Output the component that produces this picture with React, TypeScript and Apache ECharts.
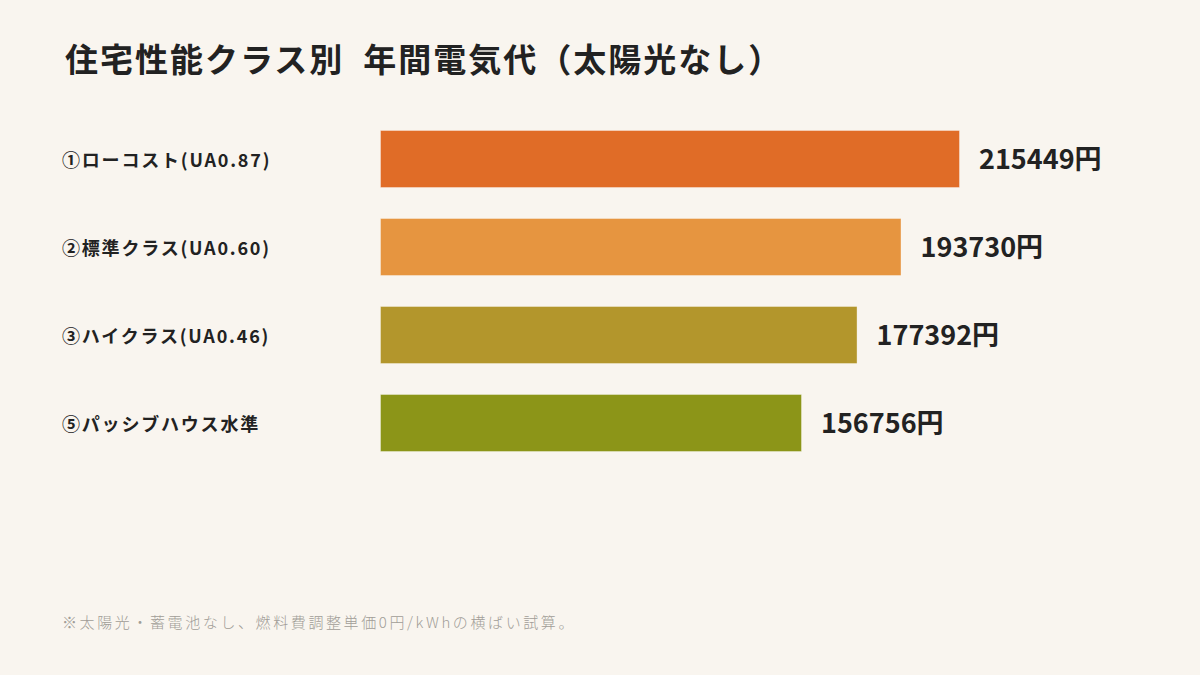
import { useEffect, useRef } from 'react'
import * as echarts from 'echarts'

const categories = ['①ローコスト(UA0.87)', '②標準クラス(UA0.60)', '③ハイクラス(UA0.46)', '⑤パッシブハウス水準']
const values = [215449, 193730, 177392, 156756]
const colors = ['#E06C27', '#E69540', '#B3962C', '#8C9518']

const titleText = '住宅性能クラス別  年間電気代（太陽光なし）'
const noteText = '※太陽光・蓄電池なし、燃料費調整単価0円/kWhの横ばい試算。'

const FONT = '"Noto Sans CJK JP", "Noto Sans", sans-serif'
const BG = '#F9F5EF'

// letter spacing per text (ECharts has no option for it, so it is set on the svg text after render)
const spacingFor = (t: string) => {
  if (t === titleText) return 2
  if (t === noteText) return 2.6
  if (categories.includes(t)) return 1.8
  return 0
}

export default function App() {
  const chartRef = useRef<HTMLDivElement>(null)

  useEffect(() => {
    if (!chartRef.current) return
    document.body.style.margin = '0'
    document.body.style.background = BG
    const chart = echarts.init(chartRef.current, null, { renderer: 'svg' })

    const option = {
      animation: false,
      backgroundColor: BG,
      textStyle: { fontFamily: FONT },
      title: [
        {
          text: titleText,
          left: 60,
          top: 36,
          textStyle: { fontFamily: FONT, fontSize: 33, fontWeight: 'bold', color: '#222222' }
        },
        {
          text: noteText,
          left: 57,
          top: 609,
          textStyle: { fontFamily: FONT, fontSize: 15, fontWeight: 300, color: '#A19D97' }
        }
      ],
      grid: { left: 380, top: 115, width: 673, height: 352 },
      xAxis: {
        type: 'value',
        min: 0,
        max: 250000,
        show: false
      },
      yAxis: {
        type: 'category',
        data: categories,
        inverse: true,
        axisLine: { show: false },
        axisTick: { show: false },
        axisLabel: {
          align: 'left',
          margin: 318,
          padding: [0, 0, 4, 0],
          fontFamily: FONT,
          fontSize: 18,
          fontWeight: 'bold',
          color: '#222222'
        }
      },
      series: [
        {
          type: 'bar',
          barWidth: 58,
          data: values.map((v, i) => ({
            value: v,
            itemStyle: { color: colors[i], borderColor: 'rgba(255,255,255,0.35)', borderWidth: 1 }
          })),
          label: {
            show: true,
            position: 'right',
            distance: 19,
            offset: [0, -2],
            formatter: (p: any) => `${p.value}円`,
            fontFamily: FONT,
            fontSize: 27,
            fontWeight: 'bold',
            color: '#222222'
          }
        }
      ]
    }

    chart.setOption(option)

    chartRef.current.querySelectorAll('text').forEach((el) => {
      const s = spacingFor(el.textContent || '')
      if (s) el.setAttribute('letter-spacing', String(s))
    })

    return () => chart.dispose()
  }, [])

  return <div ref={chartRef} style={{ position: 'fixed', left: 0, top: 0, width: 1200, height: 675 }} />
}
